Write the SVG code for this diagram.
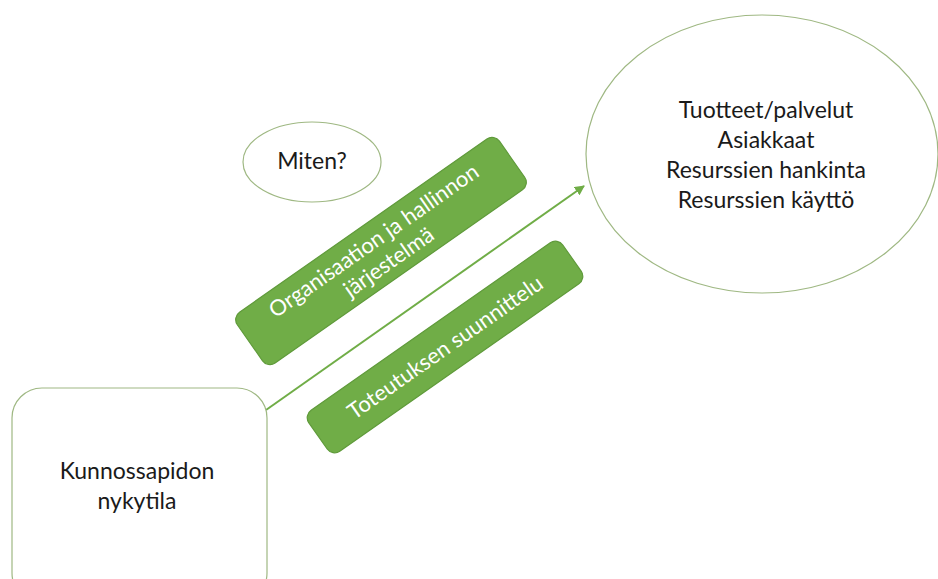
<svg xmlns="http://www.w3.org/2000/svg" width="938" height="579" viewBox="0 0 938 579">
  <style>
    .outline { fill: #ffffff; stroke: #9fb883; stroke-width: 1.2; }
    .box { fill: #70ad47; stroke: #5f9a3a; stroke-width: 1.2; }
    .dark { font-family: Lato, "Liberation Sans", sans-serif; font-size: 23px; fill: #1a1a1a; text-anchor: middle; }
    .light { font-family: Lato, "Liberation Sans", sans-serif; font-size: 22px; fill: #ffffff; text-anchor: middle; }
    .flow { stroke: #70ad47; stroke-width: 2; fill: none; }
  </style>
  <defs>
    <marker id="head" viewBox="0 0 10 10" refX="9" refY="5" markerWidth="5" markerHeight="5" orient="auto">
      <path d="M0,0 L10,5 L0,10 z" fill="#70ad47"/>
    </marker>
  </defs>
  <rect width="938" height="579" fill="#ffffff"/>

  <g id="connectors">
    <line class="flow" x1="266" y1="410" x2="584" y2="186" marker-end="url(#head)"/>
  </g>

  <g id="goal">
    <ellipse class="outline" cx="762" cy="154" rx="176" ry="139"/>
    <text class="dark" x="766" y="118">Tuotteet/palvelut</text>
    <text class="dark" x="766" y="148">Asiakkaat</text>
    <text class="dark" x="766" y="178">Resurssien hankinta</text>
    <text class="dark" x="766" y="208">Resurssien käyttö</text>
  </g>

  <g id="how">
    <ellipse class="outline" cx="312" cy="162" rx="69" ry="40"/>
    <text class="dark" x="312" y="169">Miten?</text>
  </g>

  <g id="organisation" transform="translate(381 251) rotate(-35)">
    <rect class="box" x="-160" y="-31" width="320" height="62" rx="9"/>
    <text class="light" x="0" y="-5">Organisaation ja hallinnon</text>
    <text class="light" x="0" y="21">järjestelmä</text>
  </g>

  <g id="planning" transform="translate(445 347) rotate(-35)">
    <rect class="box" x="-155" y="-25" width="310" height="50" rx="9"/>
    <text class="light" x="0" y="8">Toteutuksen suunnittelu</text>
  </g>

  <g id="current">
    <rect class="outline" x="12" y="388" width="255" height="215" rx="30"/>
    <text class="dark" x="137" y="479">Kunnossapidon</text>
    <text class="dark" x="137" y="509">nykytila</text>
  </g>
</svg>
